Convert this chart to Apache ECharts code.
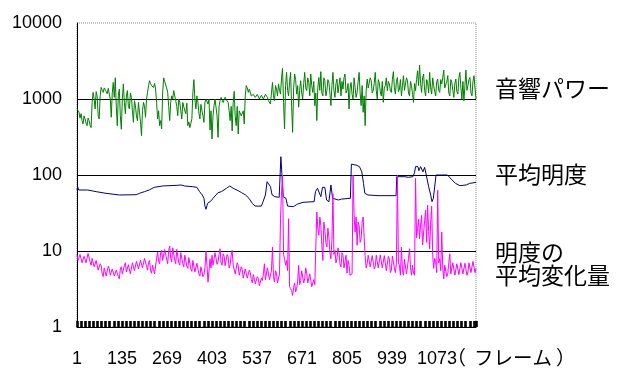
<!DOCTYPE html>
<html><head><meta charset="utf-8">
<script src="https://cdn.jsdelivr.net/npm/echarts@6/dist/echarts.min.js"></script>
<style>html,body{margin:0;padding:0;background:#fff}#c{width:626px;height:377px}</style>
</head><body><div id="c"></div>
<script>
// frames between consecutive samples of the two noisy series (sample i = frame 1 + i*step)
const sampleStep = 3;

// 音響パワー (acoustic power), one value per sample
const powerValues = [
740,700,670,560,640,520,470,600,546,480,
446,560,520,450,420,900,1220,1000,740,1250,
1100,600,546,1100,1420,1300,1220,1400,1350,1250,
1170,1380,1420,1000,575,1200,1650,1050,1900,800,
446,1100,1350,600,400,1000,1580,900,640,1100,
1290,800,740,1200,1050,700,493,950,817,600,
520,900,670,500,329,700,904,800,575,1000,
1220,1500,1740,1600,1500,1450,1420,1600,1350,900,
546,700,446,520,403,1200,1900,1700,1650,1400,
1220,800,520,900,1100,1000,1290,1100,950,800,
604,1000,904,700,546,900,950,700,640,880,
446,500,420,480,546,1200,1800,1000,740,1100,
904,650,546,850,860,600,493,900,1000,950,
860,1000,390,700,
298,600,817,1000,1050,600,313,800,950,1050,
1000,900,920,1050,980,950,904,700,520,800,
380,900,1260,600,446,800,346,700,740,600,
575,700,470,1100,1500,1400,1220,1350,1290,1100,
1050,1150,1100,1050,1000,1150,1160,1000,1020,1120,
1100,1000,950,1150,1220,1050,950,1000,860,1200,
1650,1100,950,1500,1350,1100,1580,1300,1160,1900,
2530,900,403,1500,2240,1300,1100,1700,2240,800,
364,1400,2130,1800,1160,1500,780,1300,1740,1200,
1000,1600,2240,1400,1290,1900,1650,1100,2130,1500,
1220,1700,817,1200,520,1400,1920,1300,2290,1200,
1100,1900,1740,1100,1290,1800,1650,1200,817,1500,
2240,1300,1050,1600,1830,1200,1500,1900,1100,1700,
1350,1900,
2130,1200,1290,1600,740,1400,1650,1150,1000,1900,
1420,1050,1220,1700,2240,1200,817,1500,668,1100,
446,1300,1830,1400,1350,1900,1740,1200,1290,1600,
2240,1300,1000,1800,1650,1250,1100,1700,904,1400,
1500,1900,1290,1700,1580,1300,1220,1800,2290,1400,
1160,1700,1920,1250,1350,1800,1100,1500,2030,1300,
1290,1900,1740,1200,1100,1700,1500,1150,904,1600,
1290,1800,2350,1500,2800,1600,1220,1900,2130,1300,
1100,1800,1650,1200,2240,1400,1160,1900,1500,1250,
1100,1700,1830,1300,1220,1800,1580,1900,2400,1400,
1350,1700,2030,1200,1100,1800,1650,1300,1050,1600,
1830,1250,1160,1900,2240,1400,1000,1700,950,1500,
2400,1300,1500,1800,1920,1200,1100,1700,2030,1400,
1000
];

// 明度の平均変化量 (mean change of brightness), one value per sample
const changeValues = [
8.8,7.5,7.2,9.0,9.2,7.0,6.8,8.5,9.0,7.0,
7.3,9.3,9.5,7.2,6.5,8.0,7.9,6.2,5.9,7.5,
7.2,5.6,5.3,6.8,6.4,5.0,4.6,6.0,6.2,4.7,
4.9,6.3,5.9,4.8,4.6,5.8,6.0,4.7,4.5,5.6,
5.6,4.6,4.3,5.8,6.2,5.0,4.8,6.4,7.0,5.3,
5.1,6.6,6.8,5.0,5.2,7.0,7.2,5.5,5.3,7.3,
7.5,5.8,5.6,7.6,7.9,6.0,5.9,8.0,8.1,6.3,
5.6,7.0,7.5,5.5,5.1,6.5,6.8,5.0,5.2,8.0,
9.7,7.4,6.8,9.5,10.2,7.5,7.2,10.5,10.7,7.8,
6.8,10.2,11.6,8.0,7.2,11.0,11.3,7.6,6.8,10.5,
10.2,7.0,6.5,9.5,9.7,6.8,6.2,8.8,8.6,6.3,
5.9,8.2,7.9,5.8,5.4,7.5,7.2,5.3,5.1,6.9,
6.5,5.0,4.7,6.2,5.9,4.6,4.9,6.0,9.9,6.5,
3.9,4.1,7.9,6.0,
8.8,6.5,6.8,9.5,9.2,6.7,7.2,9.0,10.7,7.0,
6.5,9.2,8.6,6.4,6.2,9.0,8.4,6.0,6.6,8.8,
10.2,6.5,6.8,5.0,5.1,7.0,6.5,4.8,4.6,6.2,
5.7,4.4,4.2,5.8,5.9,4.4,4.6,5.6,5.2,4.2,
3.8,4.9,4.8,3.7,3.6,4.6,4.3,3.5,3.5,4.4,
4.1,5.0,6.8,4.2,4.4,6.0,5.7,4.2,4.3,5.5,
11.3,4.6,3.9,5.5,5.1,3.8,3.8,5.0,26.6,60,
100,9.0,7.9,6.5,7.5,5.5,26.6,3.4,3.2,3.0,
2.6,3.3,3.8,2.9,3.2,4.0,6.5,3.6,4.1,5.5,
5.2,3.8,4.3,6.0,5.1,3.8,3.7,5.0,4.1,3.4,
3.6,4.2,3.6,3.5,32.6,20,16.1,28,21.8,12,
7.5,24,18.7,13,11.3,20,15.4,9.5,7.9,14,
56.8,9.0,10.2,7.0,7.9,11,9.7,6.8,6.2,9.5,
8.8,6.0,
7.2,8.8,5.1,7.5,6.5,4.8,4.6,5.0,100,30,
17.8,28,11.9,24,21.8,13,14.5,24,28,15,
8.3,6.0,6.8,8.8,8.6,6.2,6.0,8.7,8.4,5.8,
6.2,8.8,8.8,6.0,5.7,8.9,8.6,6.0,5.9,8.7,
8.4,5.5,5.3,8.5,7.9,5.2,5.6,8.6,9.0,6.0,
5.2,7.0,100,7.0,6.5,4.8,11.3,5.5,4.8,7.8,
7.5,5.0,6.2,8.0,10.7,6.0,4.8,6.5,5.1,4.8,
90,15,19.7,26,14.5,22,29.4,12,11.9,25,
34.5,13,40,18,10.7,24,39,9,5.9,8.0,
7.2,5.2,63,7.0,7.9,5.5,17.8,6.0,4.3,6.5,
6.5,4.6,5.1,7.0,9.2,5.0,5.3,7.0,6.8,4.8,
4.9,6.8,6.5,4.9,5.1,7.0,6.8,5.0,5.2,6.9,
6.5,4.8,5.3,7.0,6.8,5.2,5.4,7.3,7.2,5.2,
5.9
];

// 平均明度 (mean brightness): frames where the curve changes, and its values there
const brightFrames = [1,3,6,33,48,58,87,127,177,187,202,216,231,256,296,311,321,346,358,366,374,379,382,385,390,395,401,406,411,421,431,446,456,466,481,491,503,513,523,531,550,555,562,567,572,577,582,590,603,608,611,615,623,628,645,658,674,707,711,717,722,727,732,739,744,751,757,762,779,789,815,818,832,842,849,854,858,867,897,951,953,977,987,1001,1006,1009,1016,1019,1024,1031,1036,1041,1048,1054,1058,1062,1067,1070,1086,1091,1104,1116,1128,1141,1160,1170,1189];
const brightValues = [63.5,70,63.5,63.5,61.6,60.4,57.4,54.6,55,57.4,60.4,63.5,68.8,71.7,73,73.9,71.7,70.2,68.8,60.4,54.6,49.4,39,35.4,42.4,44.6,46,49.4,51.9,58.6,60.4,66.8,71.7,66.8,62.2,58.6,54.6,49.4,42.4,39,39,44.6,54.6,81.7,83,70.2,54.6,51.9,50.8,174,105,51.9,49.4,39,38.3,41.5,43.7,44.6,60.4,66.8,64.9,51.9,68.8,68.8,46.9,44.6,73.9,49.4,46.9,48.2,49.4,139,135,129,110,77.6,57.4,54.6,53.5,53.5,95,95,93.2,95,107,129,129,114,129,110,126,100,70.2,54.6,44.6,49.4,49.4,100,100,102,100,87.7,77.6,72.4,73.9,77.6,80];

const firstFrame = 1;
const lastFrame = 1189;
const frameLabelStep = 134;
const seriesLabels = ['音響パワー', '平均明度', '明度の\n平均変化量'];
const unitParts = ['（', 'フレーム', '）'];

// x is stored as (frame - firstFrame) so tick values start at 0 and labels read 1, 135, 269, ...
const powerData = powerValues.map((v, i) => [i * sampleStep, v]);
const changeData = changeValues.map((v, i) => [i * sampleStep, v]);
const brightData = brightFrames.map((f, i) => [f - firstFrame, brightValues[i]]);

const chart = echarts.init(document.getElementById('c'), null, {renderer: 'canvas'});
const numFont = '"Liberation Sans", Arial, sans-serif';
const jpFont = '"Noto Sans CJK JP", sans-serif';
const jpText = (text, x, y, size, extra) => ({
  type: 'text', x: x, y: y, silent: true,
  style: Object.assign({text: text, fontSize: size, fontFamily: jpFont, fill: '#000', verticalAlign: 'middle'}, extra || {})
});

chart.setOption({
  animation: false,
  backgroundColor: '#fff',
  grid: {
    left: 77, top: 23, width: 399, height: 304,
    show: true, backgroundColor: '#fff',
    borderColor: '#888', borderWidth: 1, borderType: 'dotted'
  },
  xAxis: {
    type: 'value', min: 0, max: lastFrame - firstFrame, interval: frameLabelStep,
    axisLine: {lineStyle: {color: '#000', width: 1}},
    axisTick: {show: true, inside: true, length: 6, lineStyle: {color: '#000', width: 2.6}},
    minorTick: {show: true, splitNumber: 11, length: 6, lineStyle: {color: '#000', width: 2.6}},
    splitLine: {show: false},
    axisLabel: {
      color: '#000', fontSize: 18, fontFamily: numFont, margin: 23,
      showMaxLabel: false,
      formatter: v => String(v + firstFrame)
    }
  },
  yAxis: {
    type: 'log', logBase: 10, min: 1, max: 10000,
    axisLine: {show: true, lineStyle: {color: '#000', width: 1}},
    axisTick: {show: false},
    axisLabel: {color: '#000', fontSize: 18, fontFamily: numFont, margin: 15, formatter: v => String(v)},
    splitLine: {show: true, showMinLine: false, showMaxLine: false, lineStyle: {color: '#000', width: 1}}
  },
  series: [
    {name: seriesLabels[0], type: 'line', data: powerData, showSymbol: false, symbol: 'none',
     lineStyle: {color: '#008000', width: 1}, itemStyle: {color: '#008000'}},
    {name: seriesLabels[1], type: 'line', data: brightData, showSymbol: false, symbol: 'none',
     lineStyle: {color: '#000080', width: 1}, itemStyle: {color: '#000080'}},
    {name: seriesLabels[2], type: 'line', data: changeData, showSymbol: false, symbol: 'none',
     lineStyle: {color: '#ff00ff', width: 1}, itemStyle: {color: '#ff00ff'}}
  ],
  graphic: [
    jpText(seriesLabels[0], 495, 88, 23),
    jpText(seriesLabels[1], 495, 174, 23),
    jpText(seriesLabels[2], 495, 264, 23, {lineHeight: 23}),
    jpText(unitParts[0], 466, 358, 19.5, {align: 'right'}),
    jpText(unitParts[1], 474, 358, 19.5),
    jpText(unitParts[2], 556, 358, 19.5)
  ]
});
</script></body></html>
